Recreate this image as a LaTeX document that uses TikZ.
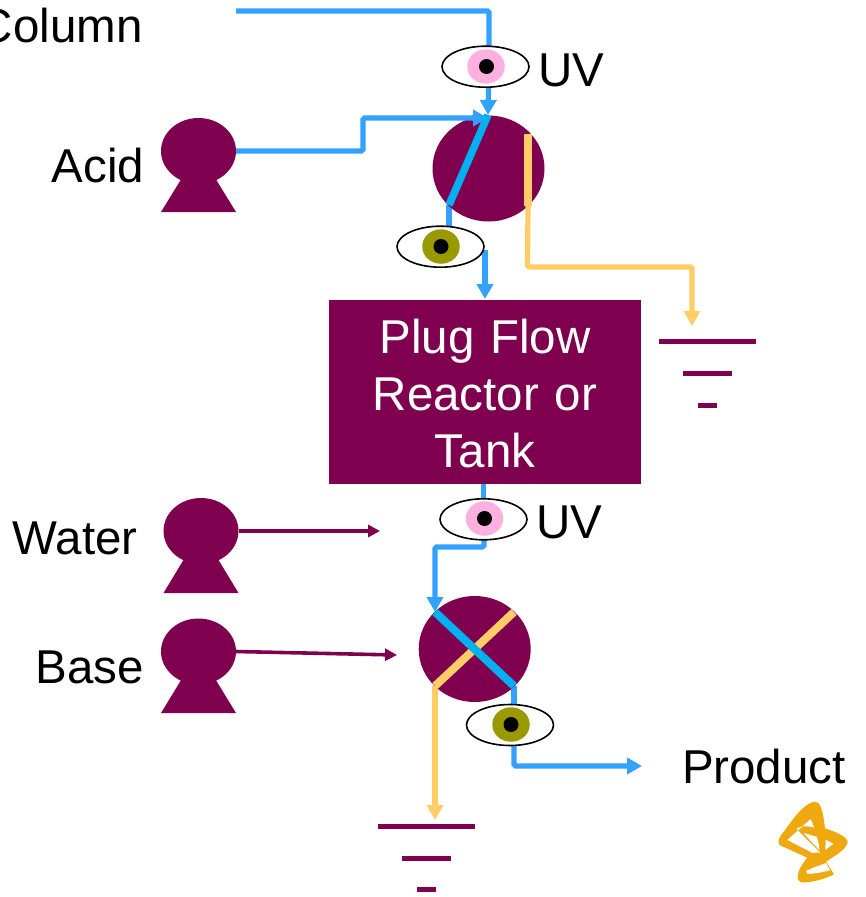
\documentclass[tikz,border=0pt]{standalone}
\usepackage{fontspec}
\setmainfont{Liberation Sans}
\usetikzlibrary{arrows.meta,shapes.geometric}
\pgfdeclarelayer{back}
\pgfsetlayers{back,main}
\definecolor{flowblue}{HTML}{33A1FF}
\definecolor{mixblue}{HTML}{00B0F0}
\definecolor{wasteyellow}{HTML}{FFCC66}
\definecolor{plum}{HTML}{800050}
\definecolor{irispink}{HTML}{FFB0E0}
\definecolor{irisolive}{HTML}{999900}
\definecolor{logoorange}{HTML}{EFA90F}
\tikzset{
  x=1pt,y=-1pt,
  every node/.style={inner sep=0pt,outer sep=0pt},
  label text/.style={font=\fontsize{47.5}{57}\selectfont,text=black},
  eyeshape/.style={ellipse,draw=black,line width=1.6pt,fill=white,minimum width=87pt,minimum height=41pt},
  irisshape/.style={ellipse,minimum width=37.5pt,minimum height=34.5pt},
  pupilshape/.style={circle,fill=black,minimum size=15pt},
  pumphead/.style={ellipse,fill=plum,minimum width=75pt,minimum height=66pt},
  mixer/.style={ellipse,fill=plum,minimum width=112pt,minimum height=106pt},
  flow/.style={draw=flowblue,line width=5.2pt,rounded corners=1.5pt},
  flowarrow/.style={flow,-{Triangle[length=15pt,width=16pt]}},
  waste/.style={draw=wasteyellow,line width=5.2pt,rounded corners=1.5pt},
  wastearrow/.style={waste,-{Triangle[length=15pt,width=16pt]}},
  feed/.style={draw=plum,line width=3.6pt,-{Triangle[length=12pt,width=12pt]}},
  groundbar/.style={draw=plum,line width=5pt},
  mixbluebar/.style={draw=mixblue,line width=7.5pt},
  mixyellowbar/.style={draw=wasteyellow,line width=8pt},
}
\begin{document}
\begin{tikzpicture}
\useasboundingbox (0,0) rectangle (865,897);

% reactor
\node[fill=plum,minimum width=312pt,minimum height=184pt] (reactor) at (485,392) {};
\node[text width=300pt,align=center,text=white,font=\fontsize{47.5}{57}\selectfont] (reactorlabel) at (485,394) {Plug Flow\\Reactor or\\Tank};

% pumps
\node[pumphead] (acidpump) at (198.5,151) {};
\fill[plum] (acidpump.center) -- (236,212) -- (161,212) -- cycle;
\node[pumphead] (waterpump) at (201,531) {};
\fill[plum] (waterpump.center) -- (238.5,593) -- (163.5,593) -- cycle;
\node[pumphead] (basepump) at (198.5,651.5) {};
\fill[plum] (basepump.center) -- (236,713) -- (161,713) -- cycle;

% mixers
\node[mixer] (mixa) at (488.5,168.5) {};
\node[mixer] (mixb) at (474.7,649) {};

% eyes
\node[eyeshape] (eyea) at (485.5,66.7) {};
\node[irisshape,fill=irispink] (irisa) at (486,66.5) {};
\node[pupilshape] (pupila) at (486.5,66.5) {};
\node[eyeshape] (eyeb) at (440.5,246.7) {};
\node[irisshape,fill=irisolive] (irisb) at (441,246.5) {};
\node[pupilshape] (pupilb) at (441,246.5) {};
\node[eyeshape] (eyec) at (483.5,519.3) {};
\node[irisshape,fill=irispink] (irisc) at (484.5,518.5) {};
\node[pupilshape] (pupilc) at (484.5,518.5) {};
\node[eyeshape] (eyed) at (510,725) {};
\node[irisshape,fill=irisolive] (irisd) at (511,724.5) {};
\node[pupilshape] (pupild) at (511,724.5) {};

% free ends
\coordinate (columnstart) at (236,11);
\coordinate (columncorner) at (489,11);
\coordinate (mixatop) at (488,115);
\coordinate (mixabottom) at (449,205);
\coordinate (mixaright) at (528,134);
\coordinate (mixarightb) at (528,206);
\coordinate (acidjoga) at (363,151);
\coordinate (acidjogb) at (363,118);
\coordinate (acidend) at (488,118);
\coordinate (groundatop) at (692,326);
\coordinate (groundacorner) at (527.5,267);
\coordinate (mixbtl) at (435,612);
\coordinate (mixbtr) at (514,612);
\coordinate (mixbbl) at (435,686);
\coordinate (mixbbr) at (514,686);
\coordinate (groundbtop) at (435,820);
\coordinate (productend) at (642,766);
\coordinate (waterend) at (380,531);
\coordinate (baseend) at (397,655);

\begin{pgfonlayer}{back}
\draw[flow] (columnstart) -- (columncorner) -- (columncorner |- eyea);
\draw[flowarrow] (columncorner |- eyea) -- (mixatop);
\draw[flow] (mixabottom) -- (mixabottom |- eyeb);
\draw[flowarrow] (485,250) -- (485,299);
\draw[flow] (reactor.south -| eyec) -- (eyec);
\draw[flowarrow] (eyec) -- (484,547) -- (435,547) -- (mixbtl);
\draw[flow] (mixbbr) -- (mixbbr |- eyed);
\draw[flowarrow] (mixbbr |- eyed) -- (514,766) -- (productend);
\end{pgfonlayer}

% acid feed, water, base
\draw[flow] (acidpump.east) -- (acidjoga) -- (acidjogb) -- (474,118);
\draw[flowarrow,rounded corners=0pt] (472,118) -- (acidend);
\draw[feed] (waterpump.east) -- (waterend);
\draw[feed] (basepump.east) -- (baseend);

% waste lines
\draw[wastearrow] (mixarightb) -- (groundacorner) -- (692,267) -- (groundatop);
\draw[wastearrow] (mixbbl) -- (groundbtop);

% mixer bars
\draw[mixyellowbar] (mixaright) -- (mixarightb);
\draw[mixbluebar] (mixatop) -- (mixabottom);
\draw[mixyellowbar] (mixbtr) -- (mixbbl);
\draw[mixbluebar,line width=8pt] (mixbtl) -- (mixbbr);

% grounds
\draw[groundbar] (659,341) -- (756,341);
\draw[groundbar] (683,373) -- (732,373);
\draw[groundbar] (698,405) -- (717,405);
\draw[groundbar] (378,826) -- (475,826);
\draw[groundbar] (402,858) -- (451,858);
\draw[groundbar] (417,889) -- (436,889);

% labels
\node[label text,anchor=base east] (columnlabel) at (142.5,42) {Column};
\node[label text,anchor=base east] (acidlabel) at (144,182) {Acid};
\node[label text,anchor=base east] (waterlabel) at (137.5,554) {Water};
\node[label text,anchor=base east] (baselabel) at (144,683) {Base};
\node[label text,anchor=base west] (uva) at (538,86) {UV};
\node[label text,anchor=base west] (uvb) at (536,538) {UV};
\node[label text,anchor=base west] (productlabel) at (682,783) {Product};

% logo
\begin{scope}[shift={(770,795)},x=0.3333pt,y=-0.3333pt]
\fill[logoorange]
  (135,20) .. controls (150,20) and (158,40) .. (165,100)
  .. controls (190,108) and (235,125) .. (233,142)
  .. controls (228,165) and (190,185) .. (168,200)
  -- (192,238)
  .. controls (160,255) and (110,265) .. (95,262)
  .. controls (75,258) and (80,225) .. (112,188)
  -- (28,150)
  .. controls (20,138) and (30,125) .. (45,105)
  .. controls (70,70) and (105,22) .. (135,20) -- cycle;
\fill[white]
  (122,72) -- (52,135) -- (128,174) -- (150,172) -- (85,108) -- (80,100)
  .. controls (95,92) and (115,92) .. (133,98) -- cycle;
\fill[white] (100,114) -- (140,125) .. controls (145,140) and (148,150) .. (148,165) -- cycle;
\fill[white] (167,134) -- (190,146) -- (166,165) -- cycle;
\fill[white] (168,204) -- (180,226) .. controls (155,232) and (125,238) .. (112,236)
  -- (108,228) -- (130,218) -- cycle;
\end{scope}
\end{tikzpicture}
\end{document}
